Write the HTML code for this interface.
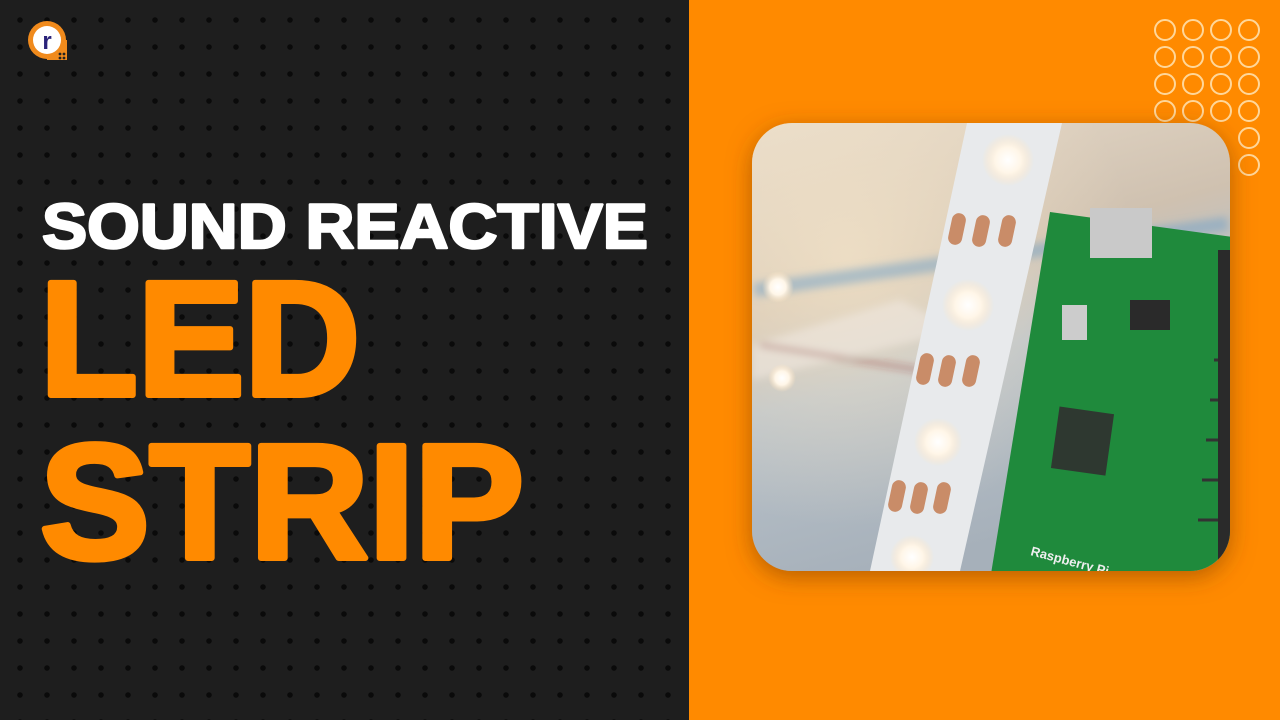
<!DOCTYPE html>
<html><head><meta charset="utf-8"><style>
html,body{margin:0;padding:0;width:1280px;height:720px;overflow:hidden;background:#1e1e1e}
svg{display:block}
text{font-family:"Liberation Sans",sans-serif;font-weight:bold}
</style></head><body>
<svg width="1280" height="720" viewBox="0 0 1280 720">
<defs>
<pattern id="dots" x="7" y="7" width="27" height="27" patternUnits="userSpaceOnUse"><circle cx="13" cy="13" r="2.8" fill="#0a0a0a"/></pattern>
<linearGradient id="bg" x1="0" y1="0" x2="0.3" y2="1"><stop offset="0" stop-color="#e8dccb"/><stop offset="0.4" stop-color="#cfc1b0"/><stop offset="0.6" stop-color="#b9c2c9"/><stop offset="1" stop-color="#a6b0ba"/></linearGradient>
<radialGradient id="glow"><stop offset="0" stop-color="#fff"/><stop offset="0.5" stop-color="#fff6e8"/><stop offset="1" stop-color="#ffe4c0" stop-opacity="0"/></radialGradient>
<radialGradient id="warm" cx="0.2" cy="0.3" r="0.6"><stop offset="0" stop-color="#f3e3c8" stop-opacity="0.8"/><stop offset="1" stop-color="#f3e3c8" stop-opacity="0"/></radialGradient>
<clipPath id="pc"><rect x="752" y="123" width="478" height="448" rx="40"/></clipPath>
<filter id="sh" x="-20%" y="-20%" width="140%" height="140%"><feDropShadow dx="0" dy="6" stdDeviation="12" flood-color="#7a3a00" flood-opacity="0.55"/></filter>
<filter id="blur"><feGaussianBlur stdDeviation="4"/></filter>
</defs>
<rect x="0" y="0" width="689" height="720" fill="#1e1e1e"/>
<rect x="0" y="0" width="689" height="720" fill="url(#dots)"/>
<rect x="689" y="0" width="591" height="720" fill="#ff8a00"/>
<g>
<circle cx="47" cy="40" r="19" fill="#f08a1c"/><rect x="47" y="40" width="20" height="20" fill="#f08a1c"/>
<circle cx="47" cy="40" r="14" fill="#fff"/>
<text x="47" y="49" font-size="24" fill="#2a237a" text-anchor="middle">r</text>
<circle cx="60" cy="54" r="1.4" fill="#222"/><circle cx="64" cy="54" r="1.4" fill="#222"/><circle cx="64" cy="58" r="1.4" fill="#222"/><circle cx="60" cy="58" r="1.4" fill="#222"/>
</g>
<g fill="none" stroke="#ffd79a" stroke-width="2">
<circle cx="1165" cy="30" r="10"/><circle cx="1193" cy="30" r="10"/><circle cx="1221" cy="30" r="10"/><circle cx="1249" cy="30" r="10"/>
<circle cx="1165" cy="57" r="10"/><circle cx="1193" cy="57" r="10"/><circle cx="1221" cy="57" r="10"/><circle cx="1249" cy="57" r="10"/>
<circle cx="1165" cy="84" r="10"/><circle cx="1193" cy="84" r="10"/><circle cx="1221" cy="84" r="10"/><circle cx="1249" cy="84" r="10"/>
<circle cx="1165" cy="111" r="10"/><circle cx="1193" cy="111" r="10"/><circle cx="1221" cy="111" r="10"/><circle cx="1249" cy="111" r="10"/>
<circle cx="1249" cy="138" r="10"/><circle cx="1249" cy="165" r="10"/>
</g>
<g filter="url(#sh)">
<rect x="752" y="123" width="478" height="448" rx="40" fill="url(#bg)"/>
</g>
<g clip-path="url(#pc)">
<rect x="752" y="123" width="478" height="448" fill="url(#warm)"/>
<g filter="url(#blur)">
<rect x="752" y="250" width="478" height="14" fill="#6fa0c8" opacity="0.5" transform="rotate(-8 990 257)"/>
<path d="M752 345 L900 300 L960 330 L752 380Z" fill="#f0e8e0" opacity="0.6"/>
<path d="M760 345 L920 370" stroke="#8b2a2a" stroke-width="3" opacity="0.6"/>
</g>
<circle cx="778" cy="287" r="16" fill="url(#glow)"/><circle cx="782" cy="378" r="14" fill="url(#glow)"/>
<polygon points="967,123 1062,123 960,571 870,571" fill="#e8eaec"/>
<g fill="#c98c68">
<rect x="1000" y="215" width="14" height="32" rx="7" transform="rotate(12 1007 231)"/><rect x="974" y="215" width="14" height="32" rx="7" transform="rotate(12 981 231)"/><rect x="950" y="213" width="14" height="32" rx="7" transform="rotate(12 957 229)"/>
<rect x="964" y="355" width="14" height="32" rx="7" transform="rotate(12 971 371)"/><rect x="940" y="355" width="14" height="32" rx="7" transform="rotate(12 947 371)"/><rect x="918" y="353" width="14" height="32" rx="7" transform="rotate(12 925 369)"/>
<rect x="935" y="482" width="14" height="32" rx="7" transform="rotate(12 942 498)"/><rect x="912" y="482" width="14" height="32" rx="7" transform="rotate(12 919 498)"/><rect x="890" y="480" width="14" height="32" rx="7" transform="rotate(12 897 496)"/>
</g>
<circle cx="1008" cy="160" r="26" fill="url(#glow)"/><circle cx="968" cy="305" r="26" fill="url(#glow)"/><circle cx="938" cy="442" r="24" fill="url(#glow)"/><circle cx="912" cy="557" r="22" fill="url(#glow)"/>
<polygon points="1050,212 1240,238 1240,580 990,580" fill="#1f8a3c"/>
<g stroke="#333" stroke-width="3"><line x1="1222" y1="280" x2="1240" y2="280"/><line x1="1218" y1="320" x2="1240" y2="320"/><line x1="1214" y1="360" x2="1240" y2="360"/><line x1="1210" y1="400" x2="1240" y2="400"/><line x1="1206" y1="440" x2="1240" y2="440"/><line x1="1202" y1="480" x2="1240" y2="480"/><line x1="1198" y1="520" x2="1240" y2="520"/></g>
<rect x="1218" y="250" width="14" height="320" fill="#2a2a2a"/>
<rect x="1090" y="208" width="62" height="50" fill="#c9c9c9"/>
<rect x="1055" y="410" width="55" height="62" fill="#2e3830" transform="rotate(8 1082 441)"/>
<rect x="1130" y="300" width="40" height="30" fill="#2a2a2a"/>
<rect x="1062" y="305" width="25" height="35" fill="#ccc"/>
<text x="1030" y="555" font-size="13" fill="#eee" font-weight="normal" transform="rotate(15 1030 555)">Raspberry Pi</text>
</g>
<text x="42" y="248" font-size="63" fill="#ffffff" stroke="#ffffff" stroke-width="2.5" stroke-linejoin="round" textLength="606" lengthAdjust="spacingAndGlyphs">SOUND REACTIVE</text>
<text x="40" y="395" font-size="163" fill="#ff8a00" stroke="#ff8a00" stroke-width="6" stroke-linejoin="round" textLength="320" lengthAdjust="spacingAndGlyphs">LED</text>
<text x="40" y="558" font-size="163" fill="#ff8a00" stroke="#ff8a00" stroke-width="6" stroke-linejoin="round" textLength="484" lengthAdjust="spacingAndGlyphs">STRIP</text>
</svg>
</body></html>
